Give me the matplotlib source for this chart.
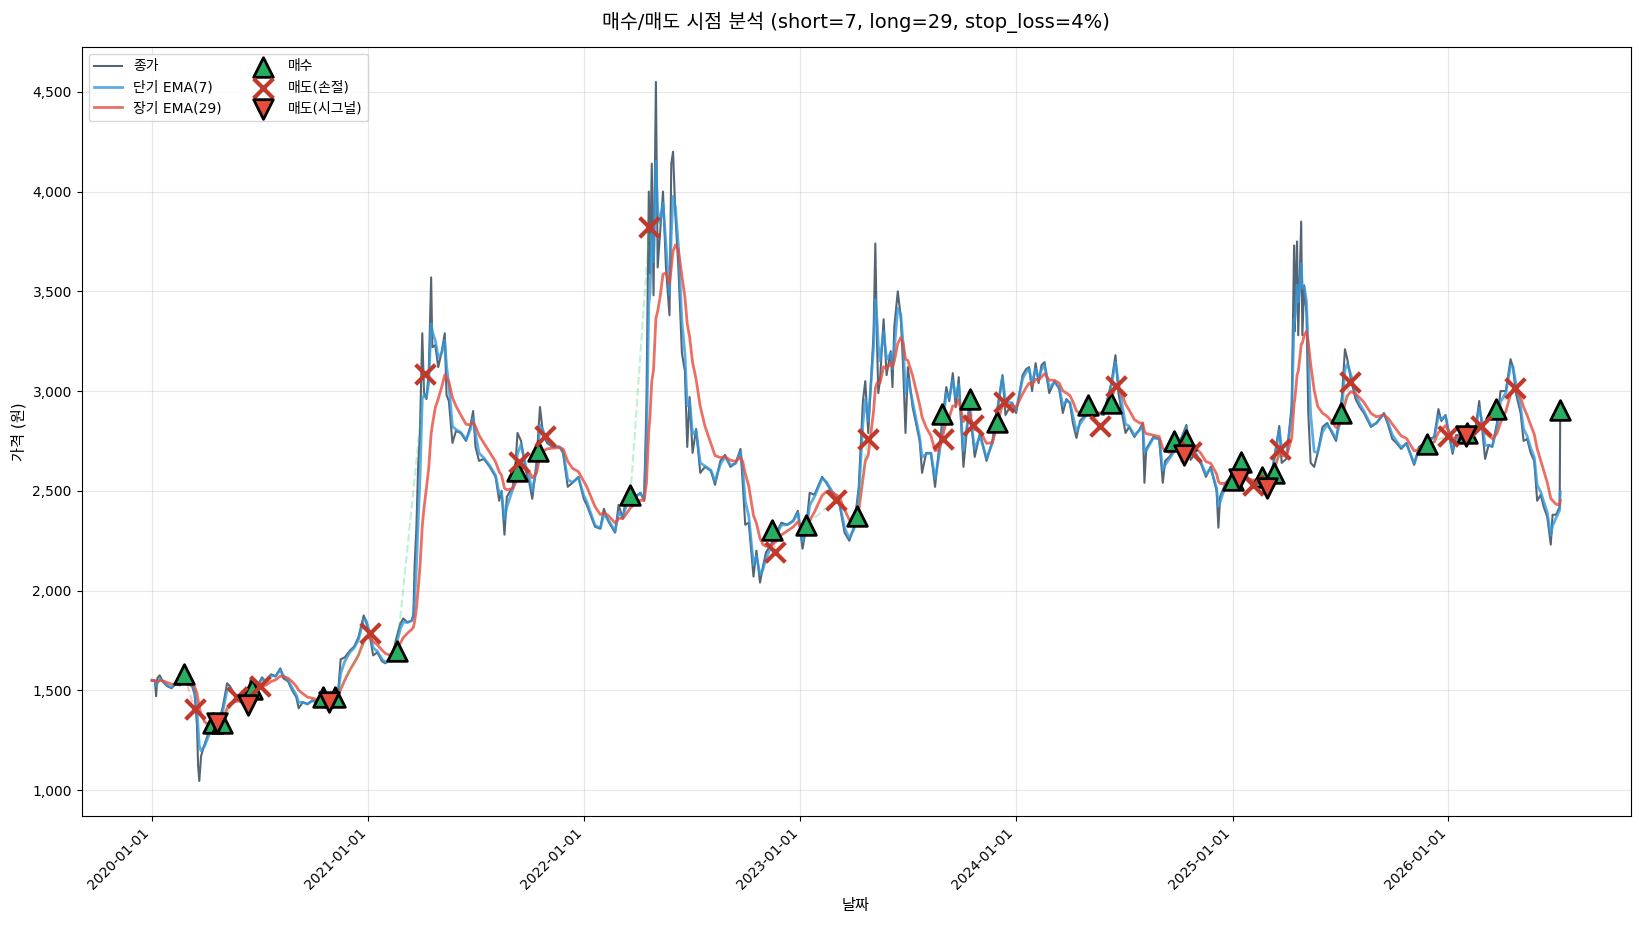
import numpy as np
import pandas as pd
import matplotlib
matplotlib.use('Agg')
import matplotlib.pyplot as plt
import matplotlib.dates as mdates
from matplotlib.ticker import FuncFormatter

plt.rcParams['font.family'] = ['DejaVu Sans', 'Noto Sans CJK KR']
plt.rcParams['axes.unicode_minus'] = False

SHORT = 7
LONG = 29
STOP_LOSS = 4

# 종가
close_dates = [
    '2020-01-01', '2020-01-06', '2020-01-08', '2020-01-10', '2020-01-14', '2020-01-20', '2020-01-27',
    '2020-02-03', '2020-02-10', '2020-02-17', '2020-02-24', '2020-03-02', '2020-03-09', '2020-03-13',
    '2020-03-17', '2020-03-19', '2020-03-21', '2020-03-24', '2020-03-30', '2020-04-06', '2020-04-11',
    '2020-04-18', '2020-04-24', '2020-04-30', '2020-05-07', '2020-05-12', '2020-05-21', '2020-05-28',
    '2020-06-04', '2020-06-10', '2020-06-16', '2020-06-20', '2020-06-27', '2020-07-05', '2020-07-12',
    '2020-07-20', '2020-07-28', '2020-08-05', '2020-08-10', '2020-08-18', '2020-08-25', '2020-09-01',
    '2020-09-05', '2020-09-12', '2020-09-20', '2020-09-28', '2020-10-06', '2020-10-15', '2020-10-25',
    '2020-11-04', '2020-11-11', '2020-11-15', '2020-11-22', '2020-12-01', '2020-12-08', '2020-12-15',
    '2020-12-24', '2020-12-28',
    '2021-01-04', '2021-01-09', '2021-01-16', '2021-01-24', '2021-01-30', '2021-02-07', '2021-02-14',
    '2021-02-18', '2021-02-24', '2021-03-01', '2021-03-08', '2021-03-15', '2021-03-18', '2021-03-20',
    '2021-03-23', '2021-03-26', '2021-03-29', '2021-04-02', '2021-04-05', '2021-04-09', '2021-04-13',
    '2021-04-17', '2021-04-19', '2021-04-24', '2021-04-29', '2021-05-05', '2021-05-10', '2021-05-13',
    '2021-05-17', '2021-05-23', '2021-05-29', '2021-06-06', '2021-06-15', '2021-06-22', '2021-06-27',
    '2021-07-01', '2021-07-07', '2021-07-15', '2021-07-25', '2021-08-04', '2021-08-10', '2021-08-14',
    '2021-08-19', '2021-08-23', '2021-09-02', '2021-09-07', '2021-09-10', '2021-09-16', '2021-09-24',
    '2021-09-30', '2021-10-05', '2021-10-12', '2021-10-18', '2021-10-23', '2021-10-30', '2021-11-08',
    '2021-11-20', '2021-11-26', '2021-12-04', '2021-12-12', '2021-12-22', '2021-12-31',
    '2022-01-05', '2022-01-19', '2022-01-28', '2022-02-03', '2022-02-10', '2022-02-22', '2022-02-28',
    '2022-03-07', '2022-03-11', '2022-03-20', '2022-03-28', '2022-04-06', '2022-04-12', '2022-04-16',
    '2022-04-20', '2022-04-22', '2022-04-25', '2022-04-28', '2022-05-02', '2022-05-05', '2022-05-09',
    '2022-05-14', '2022-05-19', '2022-05-25', '2022-05-28', '2022-05-31', '2022-06-04', '2022-06-09',
    '2022-06-15', '2022-06-20', '2022-06-24', '2022-06-28', '2022-07-03', '2022-07-09', '2022-07-16',
    '2022-07-24', '2022-08-03', '2022-08-10', '2022-08-19', '2022-08-27', '2022-09-05', '2022-09-14',
    '2022-09-22', '2022-09-26', '2022-09-30', '2022-10-06', '2022-10-14', '2022-10-19', '2022-10-25',
    '2022-10-30', '2022-11-04', '2022-11-14', '2022-11-22', '2022-11-30', '2022-12-10', '2022-12-20',
    '2022-12-28',
    '2023-01-05', '2023-01-12', '2023-01-17', '2023-01-25', '2023-02-07', '2023-02-14', '2023-02-24',
    '2023-03-08', '2023-03-17', '2023-03-25', '2023-04-02', '2023-04-10', '2023-04-17', '2023-04-21',
    '2023-04-26', '2023-05-05', '2023-05-08', '2023-05-11', '2023-05-13', '2023-05-16', '2023-05-22',
    '2023-05-27', '2023-06-03', '2023-06-06', '2023-06-09', '2023-06-15', '2023-06-20', '2023-06-24',
    '2023-06-28', '2023-07-02',
    '2023-07-10', '2023-07-22', '2023-07-26', '2023-08-02', '2023-08-10', '2023-08-17', '2023-08-24',
    '2023-09-05', '2023-09-10', '2023-09-16', '2023-09-21', '2023-09-26', '2023-10-04', '2023-10-14',
    '2023-10-23', '2023-11-01', '2023-11-12', '2023-11-22', '2023-12-09', '2023-12-14', '2023-12-25',
    '2024-01-01', '2024-01-12', '2024-01-18', '2024-01-23', '2024-01-28', '2024-02-03', '2024-02-08',
    '2024-02-13', '2024-02-18', '2024-02-26', '2024-03-06', '2024-03-14', '2024-03-20', '2024-03-26',
    '2024-04-01', '2024-04-06', '2024-04-12', '2024-04-18', '2024-04-27', '2024-05-05', '2024-05-12',
    '2024-05-20', '2024-05-28', '2024-06-10', '2024-06-17', '2024-06-22', '2024-06-29', '2024-07-04',
    '2024-07-10', '2024-07-19', '2024-07-28', '2024-08-02', '2024-08-05', '2024-08-08', '2024-08-20',
    '2024-08-30', '2024-09-05', '2024-09-09', '2024-09-16', '2024-09-28', '2024-10-07', '2024-10-15',
    '2024-10-22', '2024-10-30', '2024-11-08', '2024-11-17', '2024-11-25', '2024-12-05', '2024-12-08',
    '2024-12-11', '2024-12-20',
    '2025-01-01', '2025-01-12', '2025-01-24', '2025-02-05', '2025-02-15', '2025-02-25', '2025-03-09',
    '2025-03-21', '2025-03-25', '2025-04-02', '2025-04-11', '2025-04-15', '2025-04-16', '2025-04-18',
    '2025-04-20', '2025-04-22', '2025-04-25', '2025-04-27', '2025-04-29', '2025-05-02', '2025-05-06',
    '2025-05-09', '2025-05-13',
    '2025-05-19', '2025-05-25', '2025-06-02', '2025-06-10', '2025-06-18', '2025-06-25', '2025-06-30',
    '2025-07-05', '2025-07-10', '2025-07-14', '2025-07-20', '2025-07-28', '2025-08-04', '2025-08-11',
    '2025-08-23', '2025-09-01', '2025-09-14', '2025-09-22', '2025-09-28', '2025-10-05', '2025-10-13',
    '2025-10-22', '2025-11-04', '2025-11-12', '2025-11-22', '2025-11-30', '2025-12-08', '2025-12-15',
    '2025-12-20', '2025-12-27',
    '2026-01-08', '2026-01-14', '2026-01-24', '2026-02-05', '2026-02-15', '2026-02-22', '2026-02-27',
    '2026-03-04', '2026-03-10', '2026-03-16', '2026-03-24', '2026-03-30', '2026-04-08', '2026-04-16',
    '2026-04-20', '2026-04-25', '2026-05-03', '2026-05-08', '2026-05-14', '2026-05-20', '2026-05-26',
    '2026-05-31', '2026-06-06', '2026-06-11', '2026-06-17', '2026-06-23', '2026-06-26', '2026-07-02',
    '2026-07-08', '2026-07-09',
]
close_vals = [
    1550, 1545, 1470, 1560, 1575, 1540, 1520,
    1510, 1535, 1525, 1545, 1530, 1520, 1480,
    1330, 1120, 1045, 1170, 1230, 1290, 1320,
    1335, 1350, 1420, 1535, 1520, 1465, 1450,
    1480, 1440, 1560, 1535, 1520, 1565, 1540,
    1580, 1570, 1610, 1560, 1545, 1500, 1465,
    1410, 1440, 1430, 1450, 1440, 1455, 1445,
    1470, 1500, 1655, 1665, 1700, 1720, 1765,
    1875, 1845,
    1760, 1675, 1690, 1645, 1635, 1660, 1720,
    1770, 1835, 1860, 1840, 1850, 1880, 2120,
    2310, 2620, 2790, 3290, 2990, 2960, 3100,
    3570, 3220, 3230, 3120, 3200, 3290, 2980,
    2950, 2740, 2800, 2790, 2750, 2820, 2900,
    2720, 2650, 2660, 2620, 2570, 2450, 2500,
    2280, 2470, 2520, 2650, 2790, 2750, 2600,
    2540, 2460, 2640, 2920, 2790, 2740, 2720,
    2720, 2690, 2520, 2540, 2570, 2460,
    2430, 2320, 2310, 2410, 2350, 2290, 2430,
    2360, 2440, 2485, 2470, 2490, 2450, 2930,
    4000, 3590, 4140, 3480, 4550, 3620, 3790,
    4000, 3620, 3380, 4140, 4200, 3880, 3620,
    3190, 3100, 2720, 2970, 2690, 2810, 2590,
    2620, 2600, 2530, 2650, 2680, 2620, 2640,
    2710, 2530, 2330, 2340, 2070, 2200, 2040,
    2120, 2190, 2240, 2290, 2340, 2330, 2350,
    2400,
    2210, 2340, 2490, 2480, 2570, 2540, 2490,
    2440, 2290, 2250, 2320, 2520, 2950, 3050,
    2790, 3290, 3740, 3220, 2990, 3060, 3360,
    3080, 3200, 3020, 3320, 3500, 3370, 3120,
    2790, 3120,
    2920, 2750, 2590, 2690, 2690, 2520, 2720,
    3020, 2950, 3090, 2920, 3070, 2620, 2940,
    2670, 2790, 2650, 2750, 3080, 2880, 2940,
    2890, 3080, 3110, 3120, 3000, 3140, 3040,
    3130, 3145, 2990, 3050, 3010, 2890, 2960,
    2940, 2840, 2765, 2850, 2880, 2935, 2870,
    2890, 2880, 3040, 3180, 2990, 2875, 2790,
    2820, 2770, 2810, 2840, 2540, 2710, 2770,
    2760, 2540, 2650, 2670, 2720, 2770, 2830,
    2655, 2690, 2640, 2570, 2620, 2500, 2315,
    2470, 2540,
    2580, 2560, 2570, 2540, 2570, 2545, 2600,
    2825, 2640, 2660, 2930, 3730, 3300, 3560,
    3750, 3280, 3630, 3850, 3280, 3530, 3390,
    2890, 2640,
    2620, 2690, 2820, 2840, 2790, 2750, 2860,
    2975, 3210, 3160, 3060, 2960, 2920, 2890,
    2820, 2840, 2890, 2820, 2760, 2740, 2710,
    2740, 2630, 2720, 2740, 2760, 2770, 2910,
    2850, 2880,
    2685, 2780, 2775, 2790, 2800, 2950, 2810,
    2660, 2730, 2720, 2840, 3000, 3000, 3160,
    3120, 2990, 2890, 2750, 2760, 2690, 2650,
    2450, 2480, 2420, 2370, 2230, 2380, 2380,
    2420, 2900,
]

# 매수 / 매도 시점
buy_dates = ['2020-02-24', '2020-04-14', '2020-04-28', '2020-06-18', '2020-10-17', '2020-11-06',
             '2021-02-18', '2021-09-10', '2021-10-15', '2022-03-20', '2022-11-14', '2023-01-11',
             '2023-04-07', '2023-08-28', '2023-10-15', '2023-11-29', '2024-05-02', '2024-06-09',
             '2024-09-24', '2024-10-15', '2025-01-01', '2025-01-15', '2025-02-20', '2025-03-12',
             '2025-07-03', '2025-11-25', '2026-02-02', '2026-03-22', '2026-07-09']
buy_prices = [1583, 1335, 1335, 1508, 1467, 1467,
              1695, 2600, 2700, 2480, 2302, 2330,
              2375, 2884, 2960, 2846, 2932, 2938,
              2748, 2756, 2555, 2645, 2571, 2590,
              2890, 2735, 2790, 2911, 2903]

stop_dates = ['2020-03-13', '2020-05-23', '2020-07-02', '2021-01-04', '2021-04-07', '2021-09-12',
              '2021-10-27', '2022-04-21', '2022-11-20', '2023-03-03', '2023-04-25', '2023-08-31',
              '2023-10-20', '2023-12-12', '2024-05-22', '2024-06-18', '2024-10-22', '2025-02-04',
              '2025-03-23', '2025-07-19', '2026-01-01', '2026-02-25', '2026-04-23']
stop_prices = [1405, 1467, 1522, 1787, 3086, 2646,
               2775, 3825, 2195, 2456, 2762, 2762,
               2829, 2946, 2827, 3025, 2697, 2529,
               2712, 3045, 2777, 2827, 3017]

signal_dates = ['2020-04-20', '2020-06-12', '2020-10-27', '2024-10-11', '2025-01-12', '2025-03-01',
                '2026-01-30']
signal_prices = [1338, 1425, 1442, 2681, 2558, 2512, 2777]


def ema(s, span):
    # 영업일 span -> 달력일 halflife, 불규칙 간격이라 시간 간격으로 감쇠
    hl = np.log(0.5) / np.log(1 - 2 / (span + 1)) * 7 / 5
    t = (s.index - s.index[0]).days.values
    v = s.values
    out = np.empty(len(v))
    out[0] = v[0]
    for i in range(1, len(v)):
        a = 0.5 ** ((t[i] - t[i - 1]) / hl)
        out[i] = a * out[i - 1] + (1 - a) * v[i]
    return pd.Series(out, index=s.index)


close = pd.Series(close_vals, index=pd.to_datetime(close_dates), dtype=float)
ema_s = ema(close, SHORT)
ema_l = ema(close, LONG)

buy_dt = pd.to_datetime(buy_dates)
stop_dt = pd.to_datetime(stop_dates)
signal_dt = pd.to_datetime(signal_dates)

fig = plt.figure(figsize=(16.41, 9.30), dpi=100)
ax = fig.add_axes([0.0497, 0.1226, 0.944, 0.8269])

ax.plot(close.index, close.values, color='#2c3e50', lw=1.5, alpha=0.8, label='종가')
ax.plot(ema_s.index, ema_s.values, color='#3498db', lw=2, alpha=0.8, label=f'단기 EMA({SHORT})')
ax.plot(ema_l.index, ema_l.values, color='#e74c3c', lw=2, alpha=0.8, label=f'장기 EMA({LONG})')

# 매매 구간 연결선
events = [(d, p, 'B') for d, p in zip(buy_dt, buy_prices)]
events += [(d, p, 'S') for d, p in zip(stop_dt, stop_prices)]
events += [(d, p, 'S') for d, p in zip(signal_dt, signal_prices)]
events.sort(key=lambda e: (e[0], e[2]))
open_buy = None
for d, p, kind in events:
    if kind == 'B':
        open_buy = (d, p)
    elif open_buy is not None:
        c = '#2ecc71' if p > open_buy[1] else '#e74c3c'
        ax.plot([open_buy[0], d], [open_buy[1], p], color=c, ls='--', lw=1.5, alpha=0.3)
        open_buy = None

ax.scatter(buy_dt, buy_prices, marker='^', s=200, color='#27ae60', edgecolors='black',
           linewidths=2, zorder=5, label='매수')
ax.scatter(stop_dt, stop_prices, marker='x', s=200, color='#c0392b', linewidths=3,
           zorder=6, label='매도(손절)')
ax.scatter(signal_dt, signal_prices, marker='v', s=200, color='#e74c3c', edgecolors='black',
           linewidths=2, zorder=7, label='매도(시그널)')

ax.set_title(f'매수/매도 시점 분석 (short={SHORT}, long={LONG}, stop_loss={STOP_LOSS}%)',
             fontsize=14, pad=14)
ax.set_xlabel('날짜', fontsize=11)
ax.set_ylabel('가격 (원)', fontsize=11)
ax.yaxis.set_major_formatter(FuncFormatter(lambda v, pos: f'{v:,.0f}'))
ax.xaxis.set_major_locator(mdates.YearLocator())
ax.xaxis.set_major_formatter(mdates.DateFormatter('%Y-%m-%d'))
plt.setp(ax.get_xticklabels(), rotation=45, ha='right')
ax.grid(True, alpha=0.3)
ax.legend(loc='upper left', ncol=2, fontsize=10)

fig.savefig('out.png', dpi=100)
